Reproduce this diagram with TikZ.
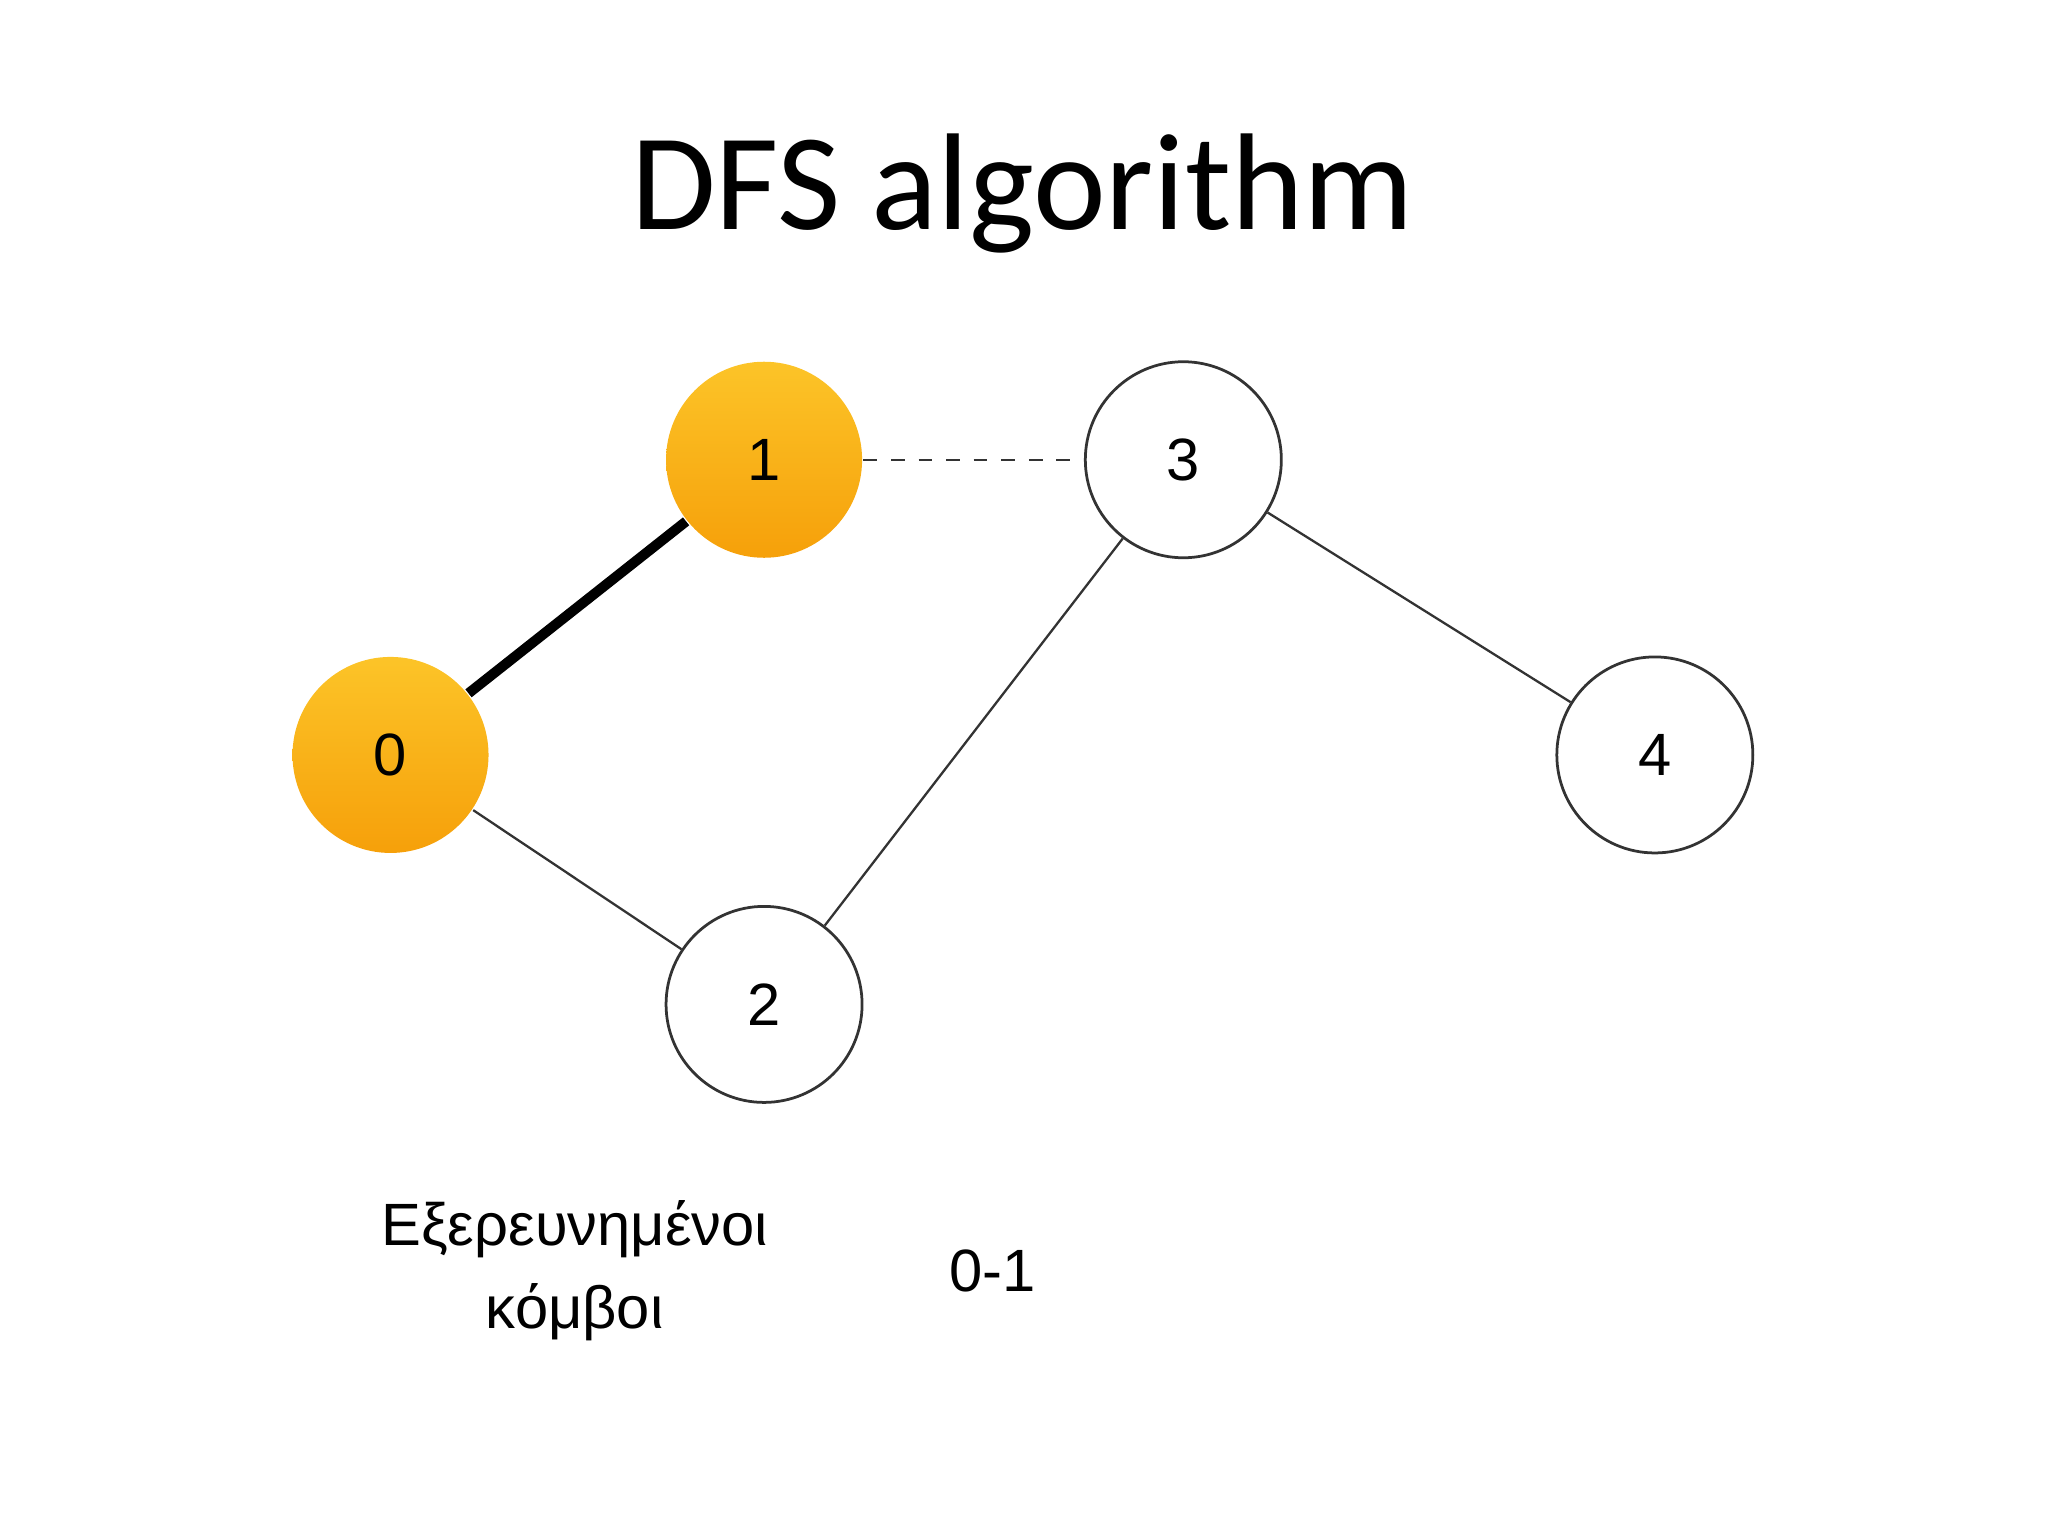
\documentclass[tikz,border=0pt]{standalone}
\usepackage{fontspec}
\setmainfont{Liberation Sans}
\newfontfamily\titlefont{Carlito}
\begin{document}
\begin{tikzpicture}[x=0.01cm,y=-0.01cm,
  vtx/.style={circle,draw=black!80,line width=0.6pt,minimum size=1.5cm,inner sep=0pt,font=\fontsize{13}{15}\selectfont},
  visited/.style={vtx,draw=none,top color=orange!40!yellow!90!orange,bottom color=orange!90!yellow,shading angle=0},
  edge/.style={black!80,line width=0.5pt}]
\useasboundingbox (0,0) rectangle (1568,1176);
\node[font=\titlefont\fontsize{30}{36}\selectfont] (title) at (783,148) {DFS algorithm};
\node[visited,top color={rgb,255:red,252;green,196;blue,40},bottom color={rgb,255:red,246;green,160;blue,10}] (n0) at (299,578) {0};
\node[visited,top color={rgb,255:red,252;green,196;blue,40},bottom color={rgb,255:red,246;green,160;blue,10}] (n1) at (585,352) {1};
\node[vtx] (n3) at (906,352) {3};
\node[vtx] (n4) at (1267,578) {4};
\node[vtx] (n2) at (585,769) {2};
\draw[black,line width=2.2pt] (n0) -- (n1);
\draw[edge,dashed] (n1) -- (n3);
\draw[edge] (n3) -- (n2);
\draw[edge] (n0) -- (n2);
\draw[edge] (n3) -- (n4);
\node[align=center,font=\fontsize{13}{18}\selectfont] (lbl) at (440,973) {Εξερευνημένοι\\κόμβοι};
\node[font=\fontsize{13}{15}\selectfont] (seq) at (760,973) {0-1};
\end{tikzpicture}
\end{document}
